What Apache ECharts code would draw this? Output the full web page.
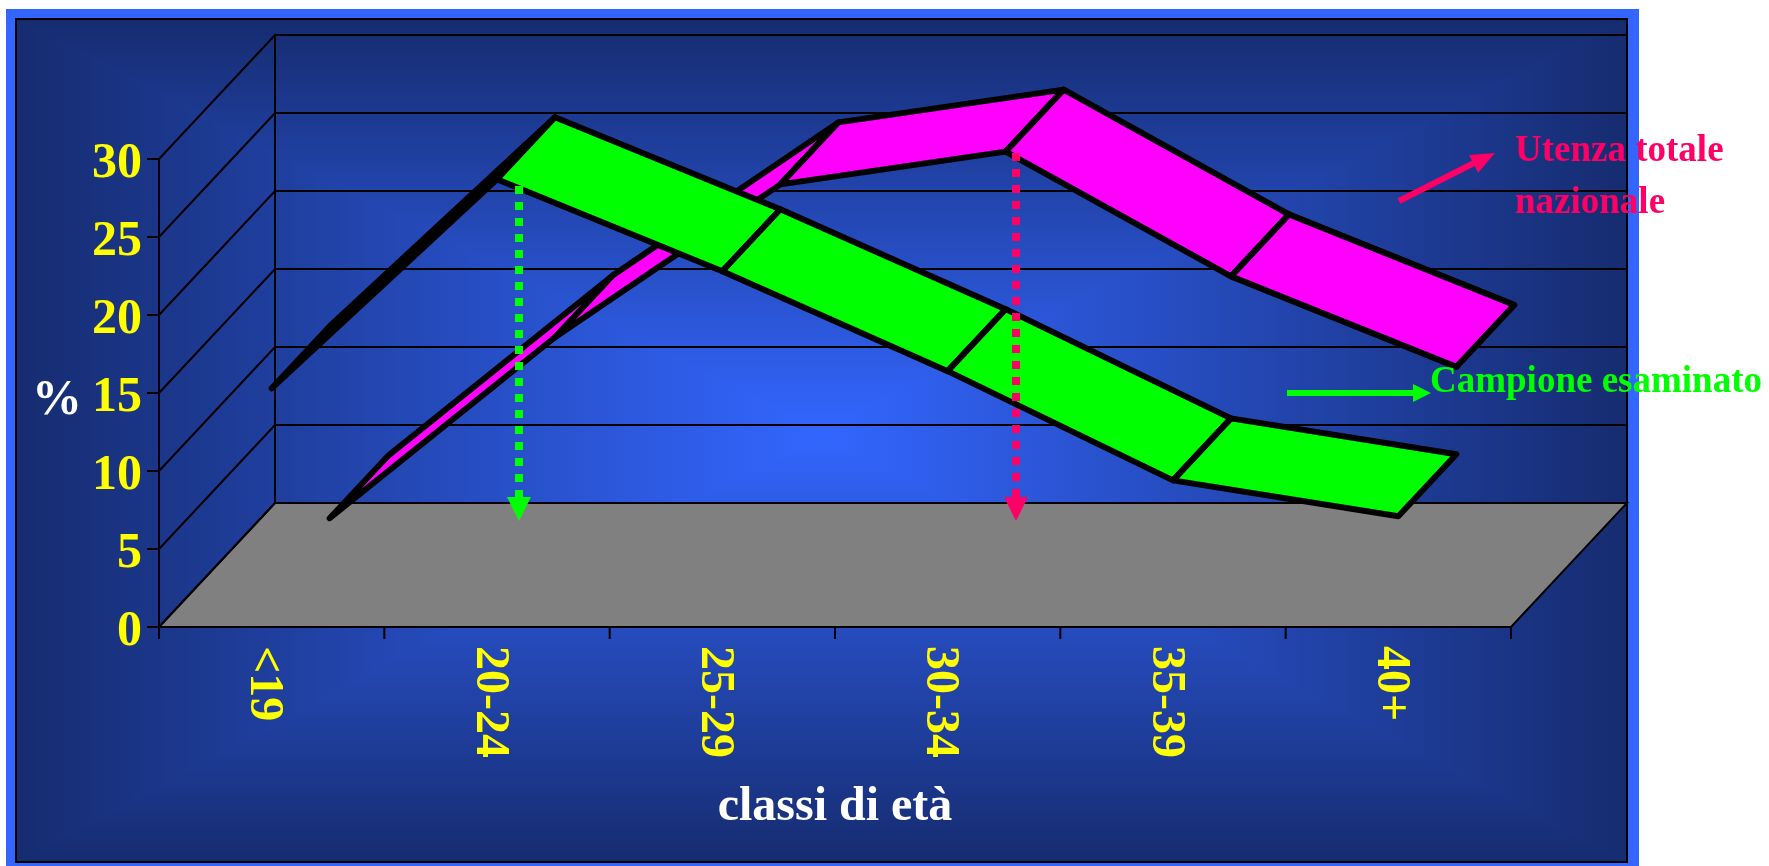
<!DOCTYPE html>
<html>
<head>
<meta charset="utf-8">
<style>
  html, body { margin: 0; padding: 0; background: #fff; }
  #main { width: 1769px; height: 866px; }
</style>
<script src="https://cdn.jsdelivr.net/npm/echarts@6/dist/echarts.min.js"></script>
</head>
<body>
<div id="main"></div>
<script>
// chart data
var categories = ['<19', '20-24', '25-29', '30-34', '35-39', '40+'];
var campione = [15.3, 28.7, 22.8, 16.4, 9.4, 7.1];
var utenza = [3.0, 14.6, 24.4, 26.5, 18.5, 12.7];
var yTicks = [0, 5, 10, 15, 20, 25, 30];

// fake 3d: how far the back wall is shifted from the front plane
var DEPTH_X = 116;
var DEPTH_Y = -124;
var TICK = 12;

var FONT = '"Liberation Serif", "Times New Roman", serif';
var GREEN = '#00ff00';
var PINK = '#ff0066';

var myChart = echarts.init(document.getElementById('main'));

// slide background, rectangular gradient made of 4 triangles
var bgL = 16, bgT = 19, bgR = 1627, bgB = 862, bgCx = 820, bgCy = 433;
var bgStops = [{ offset: 0, color: '#3366ff' }, { offset: 1, color: '#162c70' }];
function bgTriangle(a, b, x2, y2) {
  var grad = { type: 'linear', x: bgCx, y: bgCy, x2: x2, y2: y2, global: true, colorStops: bgStops };
  return {
    type: 'polygon', z: -10, silent: true,
    shape: { points: [[bgCx, bgCy], a, b] },
    style: { fill: grad, stroke: grad, lineWidth: 1 } // stroke hides the seams
  };
}

function arrowHead(tip, dirX, dirY, len, half, color) {
  var bx = tip[0] - dirX * len, by = tip[1] - dirY * len;
  return {
    type: 'polygon', z: 10, silent: true,
    shape: { points: [tip, [bx - dirY * half, by + dirX * half], [bx + dirY * half, by - dirX * half]] },
    style: { fill: color }
  };
}
function arrowLine(x1, y1, x2, y2, color, width, dash) {
  return {
    type: 'line', z: 10, silent: true,
    shape: { x1: x1, y1: y1, x2: x2, y2: y2 },
    style: { stroke: color, lineWidth: width, lineDash: dash || null }
  };
}
function note(text, x, y, color) {
  return {
    type: 'text', z: 11, silent: true, x: x, y: y,
    style: { text: text, fill: color, font: 'bold 37px ' + FONT, verticalAlign: 'top' }
  };
}

// walls, floor and axis ticks
function renderWalls(params, api) {
  var cs = params.coordSys;
  var r = cs.x + cs.width;
  var base = cs.y + cs.height;
  var black = { stroke: '#000', lineWidth: 2 };
  var children = [{
    type: 'polygon',
    shape: { points: [[cs.x, base], [r, base], [r + DEPTH_X, base + DEPTH_Y], [cs.x + DEPTH_X, base + DEPTH_Y]] },
    style: { fill: '#808080', stroke: '#000', lineWidth: 2 }
  }, {
    type: 'line',
    shape: { x1: cs.x + DEPTH_X, y1: cs.y + DEPTH_Y, x2: cs.x + DEPTH_X, y2: base + DEPTH_Y },
    style: black
  }];
  yTicks.forEach(function (t) {
    var y = api.coord([0, t])[1];
    children.push({
      type: 'polyline',
      shape: { points: [[cs.x, y], [cs.x + DEPTH_X, y + DEPTH_Y], [r + DEPTH_X, y + DEPTH_Y]] },
      style: { fill: null, stroke: '#000', lineWidth: 2 }
    });
    children.push({ type: 'line', shape: { x1: cs.x - TICK, y1: y, x2: cs.x, y2: y }, style: black });
  });
  for (var k = 0; k <= categories.length; k++) {
    var x = cs.x + cs.width * k / categories.length;
    children.push({ type: 'line', shape: { x1: x, y1: base, x2: x, y2: base + TICK }, style: black });
  }
  return { type: 'group', children: children };
}

// one ribbon segment between a category and the next one
function ribbon(values, depth, color) {
  return function (params, api) {
    var i = params.dataIndex;
    if (i >= values.length - 1) return null;
    var a = api.coord([i, values[i]]);
    var b = api.coord([i + 1, values[i + 1]]);
    var ox = DEPTH_X * depth, oy = DEPTH_Y * depth;
    var hx = DEPTH_X * 0.5, hy = DEPTH_Y * 0.5;
    return {
      type: 'polygon',
      shape: { points: [
        [a[0] + ox, a[1] + oy],
        [b[0] + ox, b[1] + oy],
        [b[0] + ox + hx, b[1] + oy + hy],
        [a[0] + ox + hx, a[1] + oy + hy]
      ] },
      style: { fill: color, stroke: '#000', lineWidth: 6, lineJoin: 'round' }
    };
  };
}

function toData(values) {
  return values.map(function (v, i) { return [i, v]; });
}

var option = {
  animation: false,
  backgroundColor: '#fff',
  grid: { left: 159, top: 159, width: 1352, height: 468 },
  xAxis: {
    type: 'category',
    data: categories,
    z: 2,
    name: 'classi di età',
    nameLocation: 'middle',
    nameGap: 157,
    nameTextStyle: { color: '#fff', fontFamily: FONT, fontWeight: 'bold', fontSize: 48 },
    axisLine: { lineStyle: { color: '#000', width: 2 } },
    axisTick: { show: false },
    // top + small lineHeight moves the text off the tick centre
    axisLabel: { interval: 0, rotate: -90, margin: 19, verticalAlign: 'top', lineHeight: 16, color: '#ffff00', fontFamily: FONT, fontWeight: 'bold', fontSize: 48 }
  },
  yAxis: {
    type: 'value',
    min: 0,
    max: 30,
    interval: 5,
    z: 2,
    name: '%',
    nameLocation: 'middle',
    nameRotate: 0,
    nameGap: 77,
    nameTextStyle: { color: '#fff', fontFamily: FONT, fontWeight: 'bold', fontSize: 50, verticalAlign: 'top', lineHeight: 16 },
    splitLine: { show: false },
    axisLine: { show: true, lineStyle: { color: '#000', width: 2 } },
    axisTick: { show: false },
    axisLabel: { margin: 17, verticalAlign: 'top', lineHeight: 10, color: '#ffff00', fontFamily: FONT, fontWeight: 'bold', fontSize: 50 }
  },
  graphic: [
    { type: 'rect', z: -11, silent: true, shape: { x: 6, y: 9, width: 1633, height: 857 }, style: { fill: '#3366ff' } },
    bgTriangle([bgL, bgT], [bgR, bgT], bgCx, bgT),
    bgTriangle([bgR, bgT], [bgR, bgB], bgR, bgCy),
    bgTriangle([bgR, bgB], [bgL, bgB], bgCx, bgB),
    bgTriangle([bgL, bgB], [bgL, bgT], bgL, bgCy),
    { type: 'rect', z: -9, silent: true, shape: { x: bgL, y: bgT, width: bgR - bgL, height: bgB - bgT }, style: { fill: null, stroke: '#000', lineWidth: 2 } },
    // dotted drop arrows
    arrowLine(519, 186, 519, 500, GREEN, 8, [8, 8]),
    arrowHead([519, 521], 0, 1, 24, 12, GREEN),
    arrowLine(1016, 153, 1016, 500, PINK, 8, [8, 8]),
    arrowHead([1016, 521], 0, 1, 24, 12, PINK),
    // legend arrows and labels
    arrowLine(1399, 201, 1480, 160, PINK, 6),
    arrowHead([1495, 153], 0.892, -0.452, 24, 10, PINK),
    arrowLine(1287, 393, 1415, 393, GREEN, 6),
    arrowHead([1431, 393], 1, 0, 18, 9, GREEN),
    note('Utenza totale', 1515, 133, PINK),
    note('nazionale', 1515, 185, PINK),
    note('Campione esaminato', 1430, 364, GREEN)
  ],
  series: [
    {
      type: 'custom',
      name: 'walls',
      z: 1,
      silent: true,
      renderItem: renderWalls,
      data: [[0, 0]]
    },
    {
      type: 'custom',
      name: 'Utenza totale nazionale',
      z: 3,
      silent: true,
      renderItem: ribbon(utenza, 0.5, '#ff00ff'),
      encode: { x: 0, y: 1 },
      data: toData(utenza)
    },
    {
      type: 'custom',
      name: 'Campione esaminato',
      z: 4,
      silent: true,
      renderItem: ribbon(campione, 0, '#00ff00'),
      encode: { x: 0, y: 1 },
      data: toData(campione)
    }
  ]
};
myChart.setOption(option);
</script>
</body>
</html>
